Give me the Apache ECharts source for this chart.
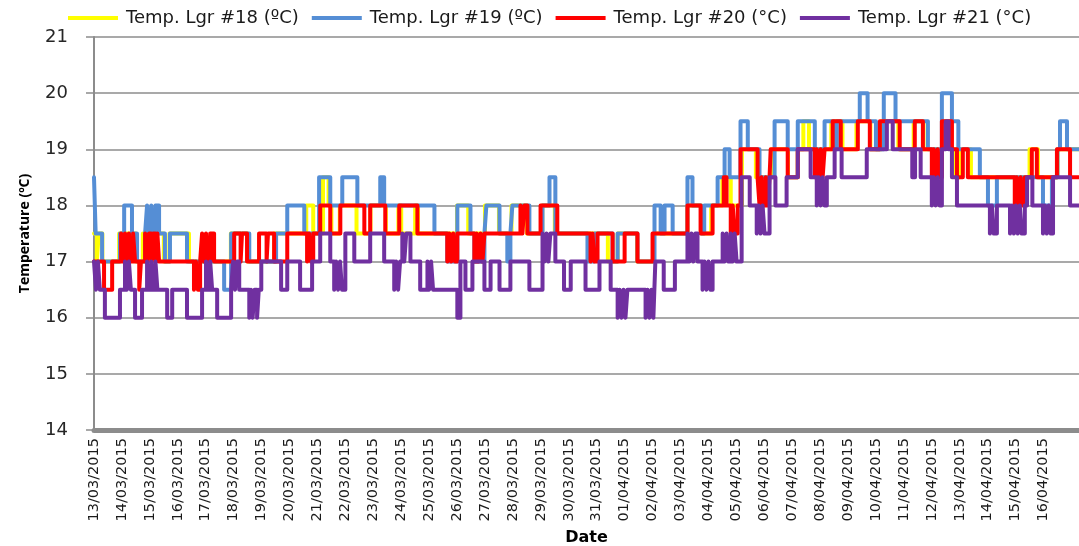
<!DOCTYPE html>
<html>
<head>
<meta charset="utf-8">
<script src="https://cdn.jsdelivr.net/npm/echarts@6/dist/echarts.min.js"></script>
<style>
html,body{margin:0;padding:0;background:#fff;}
#chart{width:1079px;height:546px;}
</style>
</head>
<body>
<div id="chart"></div>
<script>
// x values are days since 13/03/2015 00:00 ; each point = [day, temperature] at which the reading changes
var dateLabels = ['13/03/2015','14/03/2015','15/03/2015','16/03/2015','17/03/2015','18/03/2015','19/03/2015','20/03/2015','21/03/2015','22/03/2015','23/03/2015','24/03/2015','25/03/2015','26/03/2015','27/03/2015','28/03/2015','29/03/2015','30/03/2015','31/03/2015','01/04/2015','02/04/2015','03/04/2015','04/04/2015','05/04/2015','06/04/2015','07/04/2015','08/04/2015','09/04/2015','10/04/2015','11/04/2015','12/04/2015','13/04/2015','14/04/2015','15/04/2015','16/04/2015'];
var seriesNames = ['Temp. Lgr #18 (ºC)','Temp. Lgr #19 (ºC)','Temp. Lgr #20 (°C)','Temp. Lgr #21 (°C)'];
var yTicks = [14,15,16,17,18,19,20,21];
var lastDay = 35.27;

var lgr18 = [[0,17.5],[0.1,17],[0.17,17.5],[0.3,17],[0.9,17.5],[1.5,17],[1.75,17.5],[2.5,17],[2.7,17.5],[3.4,17],[4.9,17.5],[5.5,17],[6.45,17.5],[7.6,18],[7.85,17.5],[8.2,18.5],[8.4,18],[8.5,17.5],[8.8,18],[9.4,17.5],[9.9,18],[10.45,17.5],[10.9,18],[11.0,17.5],[11.5,18],[11.6,17.5],[13.0,18],[13.4,17.5],[14.0,18],[14.5,17.5],[14.95,18],[15.5,17.5],[16.05,18],[16.5,17.5],[18.4,17],[18.75,17.5],[19.45,17],[20.05,17.5],[21.25,18],[21.75,17.5],[22.1,18],[22.5,18.5],[22.8,18],[23.2,19],[23.7,18.5],[24.25,19],[24.85,18.5],[25.2,19],[25.4,19.5],[25.6,19],[26.4,19.5],[26.8,19],[27.3,19.5],[27.8,19],[28.2,19.5],[28.8,19],[29.35,19.5],[29.7,19],[30.4,19.5],[30.7,19],[30.85,18.5],[31.0,19],[31.4,18.5],[33.5,19],[33.8,18.5],[34.5,19],[35.27,19]];

var lgr19 = [[0,18.5],[0.06,17.5],[0.29,17],[0.93,17.5],[1.08,18],[1.36,17.5],[1.54,17],[1.83,17.5],[1.90,18],[1.97,17.5],[2.05,18],[2.12,17.5],[2.20,18],[2.33,17.5],[2.54,17],[2.72,17.5],[3.33,17],[4.66,16.5],[4.91,17.5],[5.56,17],[6.52,17.5],[6.92,18],[7.53,17.5],[8.06,18.5],[8.46,18],[8.89,18.5],[9.43,18],[10.25,18.5],[10.39,18],[12.19,17.5],[12.65,17],[13.01,18],[13.48,17.5],[13.62,17],[13.98,17.5],[14.05,18],[14.52,17.5],[14.80,17],[14.91,17.5],[14.98,18],[15.59,17.5],[16.06,18],[16.31,18.5],[16.52,17.5],[17.67,17],[17.92,17.5],[18.57,17],[18.75,17.5],[19.46,17],[20.07,18],[20.29,17.5],[20.43,18],[20.72,17.5],[21.25,18.5],[21.43,18],[21.75,17.5],[21.85,18],[22.33,18.5],[22.58,19],[22.76,18.5],[23.15,19.5],[23.41,19],[23.83,18.5],[24.37,19.5],[24.84,19],[25.20,19.5],[25.81,19],[26.16,19.5],[26.5,19],[26.6,19.5],[27.42,20],[27.70,19.5],[28.0,19],[28.28,20],[28.70,19.5],[29.86,19],[30.36,20],[30.72,19.5],[30.95,19],[31.72,18.5],[32.01,18],[32.33,18.5],[33.98,18],[34.30,18.5],[34.50,19],[34.59,19.5],[34.84,19],[35.27,19]];

var lgr20 = [[0,17],[0.36,16.5],[0.65,17],[0.97,17.5],[1.04,17],[1.11,17.5],[1.18,17],[1.25,17.5],[1.32,17],[1.40,17.5],[1.47,17],[1.62,16.5],[1.68,17],[1.83,17.5],[1.90,17],[1.97,17.5],[2.05,17],[2.12,17.5],[2.20,17],[2.27,17.5],[2.33,17],[3.58,16.5],[3.65,17],[3.72,16.5],[3.80,17],[3.87,17.5],[3.94,17],[4.01,17.5],[4.08,17],[4.16,17.5],[4.30,17],[5.02,17.5],[5.25,17],[5.30,17.5],[5.48,17],[5.91,17.5],[6.18,17],[6.23,17.5],[6.45,17],[6.92,17.5],[7.63,17],[7.70,17.5],[7.77,17],[7.85,17.5],[8.10,18],[8.46,17.5],[8.82,18],[9.68,17.5],[9.89,18],[10.43,17.5],[10.93,18],[11.58,17.5],[12.65,17],[12.72,17.5],[12.79,17],[12.86,17.5],[12.93,17],[13.01,17.5],[13.62,17],[13.70,17.5],[13.77,17],[13.84,17.5],[13.91,17],[13.98,17.5],[15.27,18],[15.34,17.5],[15.41,18],[15.52,17.5],[15.99,18],[16.59,17.5],[17.78,17],[17.85,17.5],[17.92,17],[18.03,17.5],[18.57,17],[19.00,17.5],[19.46,17],[20.00,17.5],[21.25,18],[21.72,17.5],[22.15,18],[22.55,18.5],[22.65,18],[22.80,17.5],[22.87,18],[22.94,17.5],[23.05,18],[23.15,19],[23.76,18.5],[23.83,18],[23.90,18.5],[23.97,18],[24.05,18.5],[24.12,18],[24.19,18.5],[24.23,19],[24.84,18.5],[25.20,19],[25.81,18.5],[25.88,19],[25.95,18.5],[26.02,19],[26.09,18.5],[26.16,19],[26.45,19.5],[26.74,19],[27.35,19.5],[27.78,19],[28.14,19.5],[28.85,19],[29.39,19.5],[29.68,19],[30.00,18.5],[30.07,19],[30.14,18.5],[30.21,19],[30.28,18.5],[30.36,19.5],[30.72,19],[30.90,18.5],[31.11,19],[31.29,18.5],[32.97,18],[33.04,18.5],[33.11,18],[33.18,18.5],[33.25,18],[33.33,18.5],[33.58,19],[33.76,18.5],[34.48,19],[34.95,18.5],[35.27,18.5]];

var lgr21 = [[0,17],[0.07,16.5],[0.14,17],[0.21,16.5],[0.39,16],[0.93,16.5],[1.11,17],[1.18,16.5],[1.25,17],[1.32,16.5],[1.47,16],[1.72,16.5],[1.90,17],[1.97,16.5],[2.05,17],[2.12,16.5],[2.20,17],[2.27,16.5],[2.62,16],[2.80,16.5],[3.33,16],[3.87,16.5],[4.01,17],[4.08,16.5],[4.16,17],[4.23,16.5],[4.41,16],[4.91,16.5],[4.98,17],[5.05,16.5],[5.12,17],[5.20,16.5],[5.56,16],[5.62,16.5],[5.68,16],[5.75,16.5],[5.84,16],[5.90,16.5],[5.99,17],[6.70,16.5],[6.92,17],[7.38,16.5],[7.81,17],[8.10,17.5],[8.46,17],[8.60,16.5],[8.67,17],[8.74,16.5],[8.81,17],[8.88,16.5],[9.00,17.5],[9.32,17],[9.89,17.5],[10.39,17],[10.75,16.5],[10.82,17],[10.89,16.5],[10.96,17],[11.04,17.5],[11.11,17],[11.18,17.5],[11.33,17],[11.68,16.5],[11.94,17],[12.00,16.5],[12.07,17],[12.14,16.5],[13.01,16],[13.12,17],[13.30,16.5],[13.55,17],[13.98,16.5],[14.20,17],[14.52,16.5],[14.91,17],[15.59,16.5],[16.06,17.5],[16.13,17],[16.20,17.5],[16.27,17],[16.34,17.5],[16.52,17],[16.83,16.5],[17.07,17],[17.60,16.5],[18.10,17],[18.50,16.5],[18.75,16],[18.82,16.5],[18.89,16],[18.96,16.5],[19.03,16],[19.10,16.5],[19.75,16],[19.82,16.5],[19.89,16],[19.96,16.5],[20.03,16],[20.10,17],[20.40,16.5],[20.80,17],[21.25,17.5],[21.32,17],[21.39,17.5],[21.46,17],[21.53,17.5],[21.61,17],[21.79,16.5],[21.86,17],[21.93,16.5],[22.00,17],[22.07,16.5],[22.15,17],[22.51,17.5],[22.58,17],[22.65,17.5],[22.72,17],[22.80,17.5],[22.87,17],[22.94,17.5],[23.01,17],[23.19,18.5],[23.48,18],[23.73,17.5],[23.80,18],[23.87,17.5],[23.94,18],[24.01,17.5],[24.19,18.5],[24.40,18],[24.80,18.5],[25.20,19],[25.66,18.5],[25.88,18],[25.95,18.5],[26.02,18],[26.09,18.5],[26.16,18],[26.24,18.5],[26.52,19],[26.77,18.5],[27.67,19],[28.39,19.5],[28.60,19],[29.30,18.5],[29.40,19],[29.60,18.5],[30.00,18],[30.07,18.5],[30.14,18],[30.21,18.5],[30.28,18],[30.36,19],[30.50,19.5],[30.60,19],[30.72,18.5],[30.90,18],[32.08,17.5],[32.15,18],[32.22,17.5],[32.33,18],[32.80,17.5],[32.87,18],[32.94,17.5],[33.01,18],[33.08,17.5],[33.15,18],[33.22,17.5],[33.33,18],[33.41,18.5],[33.60,18],[33.98,17.5],[34.05,18],[34.12,17.5],[34.19,18],[34.26,17.5],[34.34,18.5],[34.95,18],[35.27,18]];

var colors = ['#FFFF00','#558ED5','#FF0000','#7030A0'];
var allData = [lgr18, lgr19, lgr20, lgr21];

var chart = echarts.init(document.getElementById('chart'));
var wide = "'DejaVu Sans', 'Open Sans', sans-serif";
var narrow = "'Open Sans', 'DejaVu Sans', sans-serif";
chart.setOption({
  animation: false,
  backgroundColor: '#ffffff',
  textStyle: { fontFamily: wide },
  legend: {
    top: 4,
    left: 63,
    icon: 'rect',
    itemWidth: 50,
    itemHeight: 4,
    itemGap: 13,
    textStyle: { fontSize: 18, color: '#1a1a1a', fontFamily: wide, padding: [0, 0, 0, 3] },
    data: seriesNames
  },
  grid: { left: 94, right: 0, top: 37, bottom: 116, containLabel: false, outerBoundsMode: 'none' },
  xAxis: {
    type: 'value',
    min: 0,
    max: lastDay,
    interval: 1,
    name: 'Date',
    nameLocation: 'middle',
    nameGap: 96,
    nameTextStyle: { fontSize: 16, fontWeight: 'bold', color: '#000', fontFamily: wide },
    axisLine: { show: true, onZero: false, lineStyle: { color: '#8c8c8c', width: 5 } },
    axisTick: { show: false },
    splitLine: { show: false },
    axisLabel: {
      rotate: 90,
      margin: 8,
      fontSize: 14.5,
      color: '#1a1a1a',
      fontFamily: wide,
      showMaxLabel: false,
      formatter: function (v) { return dateLabels[v] !== undefined && v === Math.round(v) ? dateLabels[v] : ''; }
    }
  },
  yAxis: {
    type: 'value',
    min: yTicks[0],
    max: yTicks[yTicks.length - 1],
    interval: 1,
    name: 'Temperature (ºC)',
    nameLocation: 'middle',
    nameGap: 62,
    nameTextStyle: { fontSize: 14, fontWeight: 'bold', color: '#000', fontFamily: narrow },
    axisLine: { show: true, lineStyle: { color: '#8c8c8c', width: 2 } },
    axisTick: { show: true, length: 8, lineStyle: { color: '#8c8c8c', width: 1.5 } },
    splitLine: { show: true, lineStyle: { color: '#8c8c8c', width: 1.5 } },
    axisLabel: { fontSize: 18, color: '#262626', margin: 26, fontFamily: wide }
  },
  series: allData.map(function (d, i) {
    return {
      name: seriesNames[i],
      type: 'line',
      step: 'end',
      data: d,
      symbol: 'none',
      color: colors[i],
      lineStyle: { color: colors[i], width: 4, cap: 'round', join: 'round' },
      z: 2 + i
    };
  })
});
</script>
</body>
</html>
